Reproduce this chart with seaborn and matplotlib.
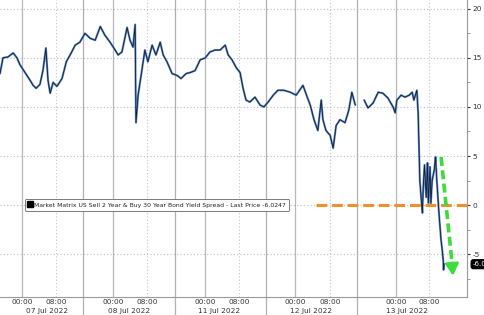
import numpy as np
import pandas as pd
import matplotlib
matplotlib.use("Agg")
import matplotlib.pyplot as plt
import matplotlib.transforms as mtransforms
from matplotlib.lines import Line2D
import seaborn as sns

# ---- data (x = trading-time hours from 00:00 07 Jul 2022) ----
hours_seg1 = [-5.2, -4.5, -3.3, -2.1, -1.2, -0.5, 0.7, 1.9, 2.6, 3.3, 4.2, 4.9, 5.6, 6.1, 6.6, 7.3,
              8.2, 9.4, 10.4, 11.3, 12.5, 13.6, 14.8, 16.0, 17.2, 18.4, 19.5, 20.7, 21.9, 22.6, 23.5,
              24.7, 25.4, 26.1, 26.6, 26.8, 27.3, 28.0, 28.9, 29.6, 30.6, 31.5, 32.5, 33.2, 34.1,
              35.3, 36.5, 37.4, 38.6, 39.5, 40.7, 41.9, 43.1, 44.2, 45.4, 46.6, 47.8, 48.5, 49.4,
              50.4, 51.3, 52.0, 52.7, 53.6, 54.8, 56.0, 56.9, 57.9, 59.1, 60.2, 61.6, 63.1, 64.5,
              66.1, 67.1, 67.8, 68.7, 69.6, 70.4, 70.8, 71.5, 72.5, 73.2, 73.9, 74.8, 76.0, 76.9,
              77.6, 78.4]
spread_seg1 = [13.4, 15.0, 15.1, 15.5, 15.0, 14.3, 13.5, 12.7, 12.2, 11.9, 12.3, 13.7, 16.0, 12.7, 11.4, 12.5,
               12.1, 12.9, 14.6, 15.3, 16.3, 16.6, 17.5, 17.0, 16.8, 18.2, 17.3, 16.6, 15.8, 15.3, 15.6,
               18.1, 16.8, 16.1, 18.4, 8.4, 11.2, 13.2, 15.8, 14.6, 16.3, 15.3, 16.6, 15.3, 14.6,
               13.4, 13.2, 12.9, 13.4, 13.5, 13.7, 14.8, 15.0, 15.6, 15.8, 15.8, 16.3, 15.3, 14.8,
               14.0, 13.5, 11.9, 10.7, 10.5, 11.0, 10.2, 10.0, 10.5, 11.2, 11.7, 11.7, 11.5, 11.2,
               12.2, 11.0, 10.2, 8.7, 7.6, 10.7, 8.7, 7.6, 7.1, 5.8, 8.1, 8.7, 8.4, 9.7,
               11.5, 10.2]
hours_seg2 = [80.5, 81.4, 82.6, 83.8, 84.9, 86.1, 87.3, 87.8, 88.2, 89.2, 90.1, 91.1, 91.8, 92.2, 92.9,
              93.2, 93.6, 93.9, 94.2, 94.4, 94.7, 95.1, 95.4, 95.6, 96.0, 96.2, 96.5, 97.0, 97.3,
              97.6, 97.9, 98.1, 98.4, 98.6, 98.8, 99.1, 99.2, 99.3]
spread_seg2 = [10.7, 9.9, 10.4, 11.5, 11.4, 10.9, 10.0, 9.4, 10.7, 11.2, 11.0, 11.2, 11.5, 10.7, 11.7,
               9.4, 2.5, 0.8, -0.8, 1.8, 4.1, 0.8, 4.3, 0.2, 3.9, 0.2, 2.5, 3.6, 4.9,
               2.5, 0.5, -0.8, -2.5, -3.6, -4.3, -5.6, -6.6, -6.0]

last_price = -6.0247
series_label = "Market Matrix US Sell 2 Year & Buy 30 Year Bond Yield Spread - Last Price -6.0247"

midnight_ticks = [0.0, 21.4, 43.1, 64.2, 88.0]
eight_am_ticks = [8.0, 29.4, 51.1, 72.5, 95.8]
day_separators = [14.4, 36.0, 57.4, 78.8]
date_labels = ["07 Jul 2022", "08 Jul 2022", "11 Jul 2022", "12 Jul 2022", "13 Jul 2022"]
date_label_pos = [5.9, 25.1, 46.4, 68.0, 90.6]

zero_line_start = 69.2
arrow_start = (98.6, 4.9)
arrow_end = (101.4, -7.2)

y_major = [-5, 0, 5, 10, 15, 20]
y_minor = [-7.5, -2.5, 2.5, 7.5, 12.5, 17.5]

# ---- build frame ----
df = pd.DataFrame({
    "t": hours_seg1 + hours_seg2,
    "v": spread_seg1 + spread_seg2,
    "seg": [1] * len(hours_seg1) + [2] * len(hours_seg2),
})

sns.set_style("white")
plt.rcParams["font.family"] = ["DejaVu Sans"]

fig = plt.figure(figsize=(4.85, 3.15), dpi=100)
ax = fig.add_axes([0.0, 18 / 315, 467 / 485, 297 / 315])

x_lo, x_hi = -5.2, 104.7
ax.set_xlim(x_lo, x_hi)
ax.set_ylim(-9.37, 20.9)

# grid
for y in y_major:
    ax.axhline(y, color="#bdbdbd", lw=0.8, ls=(0, (1, 2)), zorder=0)
for x in midnight_ticks:
    ax.axvline(x, color="#b8b8b8", lw=0.9, zorder=0)
for x in eight_am_ticks:
    ax.axvline(x, color="#c4c4c4", lw=0.8, ls=(0, (1, 2)), zorder=0)
for x in day_separators:
    ax.axvline(x, ymin=-0.065, ymax=1, color="#b0b0b0", lw=0.9, zorder=0, clip_on=False)

# series
sns.lineplot(data=df, x="t", y="v", units="seg", estimator=None, ax=ax,
             color="#5a88c6", lw=1.5, zorder=3, legend=False)
sns.lineplot(data=df, x="t", y="v", units="seg", estimator=None, ax=ax,
             color="#101a30", lw=0.6, zorder=4, legend=False)

# orange zero line
ax.plot([zero_line_start, x_hi], [0, 0], color="#f0902a", lw=2.2, ls=(0, (3.5, 1.6)), zorder=5,
        clip_on=False)

# green dashed arrow
ax.plot([arrow_start[0], arrow_end[0] - 0.15], [arrow_start[1], arrow_end[1] + 1.0],
        color="#3ddc3d", lw=2.6, ls=(0, (2.5, 1.2)), zorder=6)
ax.annotate("", xy=arrow_end, xytext=(arrow_end[0] - 0.25, arrow_end[1] + 1.3),
            arrowprops=dict(arrowstyle="-|>,head_length=0.7,head_width=0.4",
                            color="#3ddc3d", lw=2.0, shrinkA=0, shrinkB=0), zorder=6)

# axes styling
for s in ["left", "top"]:
    ax.spines[s].set_visible(False)
ax.spines["right"].set_color("#999999")
ax.spines["bottom"].set_color("#999999")
ax.spines["right"].set_linewidth(0.8)
ax.spines["bottom"].set_linewidth(0.8)

ax.yaxis.tick_right()
ax.set_yticks(y_major)
ax.set_yticklabels([str(v) for v in y_major])
ax.set_yticks(y_minor, minor=True)
ax.tick_params(axis="y", which="major", direction="out", length=2.5, width=0.8, color="#333333",
               labelsize=5.3, labelcolor="#333333", pad=1.5)
ax.tick_params(axis="y", which="minor", direction="out", length=2, width=0.6, color="#888888")

ax.set_xticks(midnight_ticks + eight_am_ticks)
ax.set_xticklabels(["00:00"] * len(midnight_ticks) + ["08:00"] * len(eight_am_ticks))
ax.tick_params(axis="x", which="major", length=0, labelsize=5.3, labelcolor="#333333", pad=1.5)
ax.set_xlabel("")
ax.set_ylabel("")

trans = mtransforms.blended_transform_factory(ax.transData, ax.transAxes)
for pos, lab in zip(date_label_pos, date_labels):
    ax.text(pos, -0.048, lab, transform=trans, ha="center", va="center", fontsize=5.3,
            color="#333333", clip_on=False)

# last price tag
ytrans = mtransforms.blended_transform_factory(ax.transAxes, ax.transData)
ax.text(1.012, last_price, f"{last_price:.1f}", transform=ytrans, ha="left", va="center",
        fontsize=5.0, color="white", clip_on=False,
        bbox=dict(boxstyle="round,pad=0.2,rounding_size=0.3", fc="black", ec="black"))

# legend
handle = Line2D([], [], marker="s", color="black", linestyle="none", markersize=4)
leg = ax.legend([handle], [series_label], loc="center left", bbox_to_anchor=(0.054, 0.31),
                fontsize=4.4, frameon=True, fancybox=True, handlelength=0.6, handletextpad=0.4,
                borderpad=0.5, borderaxespad=0)
leg.get_frame().set_edgecolor("#666666")
leg.get_frame().set_linewidth(0.6)
leg.get_frame().set_facecolor("white")
leg.get_frame().set_alpha(1)
for t in leg.get_texts():
    t.set_color("#222222")

fig.savefig("out.png", dpi=100, facecolor="white")
